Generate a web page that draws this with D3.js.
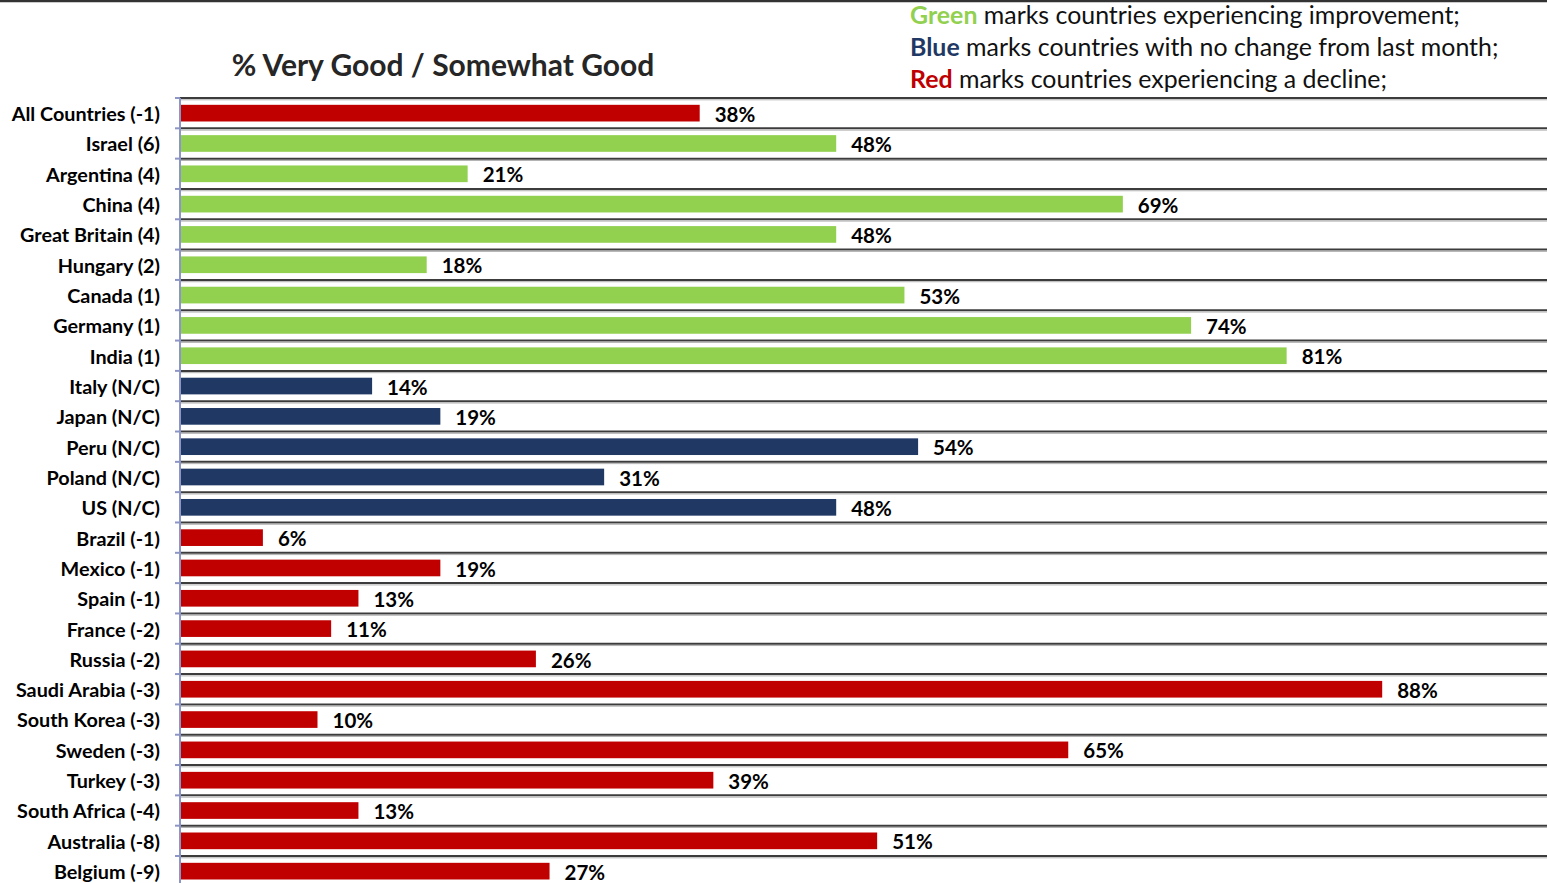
<!DOCTYPE html>
<html>
<head>
<meta charset="utf-8">
<script src="https://cdn.jsdelivr.net/npm/d3@7"></script>
<style>
  html, body { margin: 0; padding: 0; background: #fff; }
  svg { display: block; }
  text { font-family: Lato, "Open Sans", sans-serif; }
</style>
</head>
<body>
<svg id="chart" width="1547" height="883"></svg>
<script>
// Country labels (with change from last month) and % Very Good / Somewhat Good
const countries = [
  "All Countries (-1)", "Israel (6)", "Argentina (4)", "China (4)", "Great Britain (4)",
  "Hungary (2)", "Canada (1)", "Germany (1)", "India (1)", "Italy (N/C)", "Japan (N/C)",
  "Peru (N/C)", "Poland (N/C)", "US (N/C)", "Brazil (-1)", "Mexico (-1)", "Spain (-1)",
  "France (-2)", "Russia (-2)", "Saudi Arabia (-3)", "South Korea (-3)", "Sweden (-3)",
  "Turkey (-3)", "South Africa (-4)", "Australia (-8)", "Belgium (-9)"
];
const values = [38, 48, 21, 69, 48, 18, 53, 74, 81, 14, 19, 54, 31, 48, 6, 19, 13, 11, 26, 88, 10, 65, 39, 13, 51, 27];
// trend: "up" improvement, "same" no change, "down" decline
const trends = [
  "down", "up", "up", "up", "up", "up", "up", "up", "up", "same", "same", "same", "same", "same",
  "down", "down", "down", "down", "down", "down", "down", "down", "down", "down", "down", "down"
];
const trendColors = { up: "#92D050", same: "#1F3864", down: "#C00000" };

const legendLines = [
  { key: "Green", color: "#92D050", rest: " marks countries experiencing improvement;" },
  { key: "Blue", color: "#1F3864", rest: " marks countries with no change from last month;" },
  { key: "Red", color: "#C00000", rest: " marks countries experiencing a decline;" }
];

const svg = d3.select("#chart");
const W = 1547;

const x = d3.scaleLinear().domain([0, 100]).range([181, 1546]);
const bandStep = 30.32;
const y = d3.scaleBand()
  .domain(countries)
  .range([98, 98 + bandStep * countries.length])
  .paddingInner(0.45)
  .paddingOuter(0.225);

// top frame line
svg.append("line")
  .attr("x1", 0).attr("x2", W).attr("y1", 1).attr("y2", 1)
  .attr("stroke", "#333").attr("stroke-width", 2.5);

// row separator lines
const bounds = d3.range(countries.length + 1).map(i => 98 + i * bandStep);
svg.append("g").selectAll("line.sep")
  .data(bounds)
  .join("line")
  .attr("x1", 180).attr("x2", W)
  .attr("y1", d => d).attr("y2", d => d)
  .attr("stroke", "#3c3c3c").attr("stroke-width", 2);
svg.append("g").selectAll("line.sep2")
  .data(bounds)
  .join("line")
  .attr("x1", 180).attr("x2", W)
  .attr("y1", d => d + 1.8).attr("y2", d => d + 1.8)
  .attr("stroke", "#b0b0b0").attr("stroke-width", 1);

// bars
svg.append("g").selectAll("rect")
  .data(countries)
  .join("rect")
  .attr("x", x(0))
  .attr("y", d => y(d))
  .attr("width", (d, i) => x(values[i]) - x(0))
  .attr("height", y.bandwidth())
  .attr("fill", (d, i) => trendColors[trends[i]]);

// value labels
svg.append("g").selectAll("text")
  .data(countries)
  .join("text")
  .attr("x", (d, i) => x(values[i]) + 15)
  .attr("y", d => y(d) + y.bandwidth() / 2)
  .attr("dy", "0.42em")
  .attr("font-size", 20.5)
  .attr("font-weight", 700)
  .attr("fill", "#000")
  .text((d, i) => values[i] + "%");

// category axis
const axis = svg.append("g")
  .attr("transform", "translate(180,0)")
  .call(d3.axisLeft(y).tickSize(0).tickPadding(20));
axis.select(".domain").remove();
axis.selectAll("text")
  .attr("dy", "0.4em")
  .attr("font-size", 19.8)
  .attr("font-weight", 700)
  .attr("fill", "#000")
  .style("font-family", "Lato, sans-serif");

svg.append("line")
  .attr("x1", 180).attr("x2", 180)
  .attr("y1", 98).attr("y2", 883)
  .attr("stroke", "#8C96C6").attr("stroke-width", 2);
svg.append("g").selectAll("line.tick")
  .data(bounds)
  .join("line")
  .attr("x1", 175).attr("x2", 180)
  .attr("y1", d => d).attr("y2", d => d)
  .attr("stroke", "#8C96C6").attr("stroke-width", 2);

// title
svg.append("text")
  .attr("x", 443).attr("y", 76)
  .attr("text-anchor", "middle")
  .attr("font-size", 30)
  .attr("font-weight", 700)
  .attr("fill", "#262626")
  .text("% Very Good / Somewhat Good");

// colour key
const legend = svg.append("g");
legendLines.forEach((l, i) => {
  const t = legend.append("text")
    .attr("x", 910).attr("y", 24 + i * 32)
    .attr("font-size", 24.9)
    .attr("fill", "#111");
  t.append("tspan").attr("fill", l.color).attr("font-weight", 700).text(l.key);
  t.append("tspan").text(l.rest);
});
</script>
</body>
</html>
